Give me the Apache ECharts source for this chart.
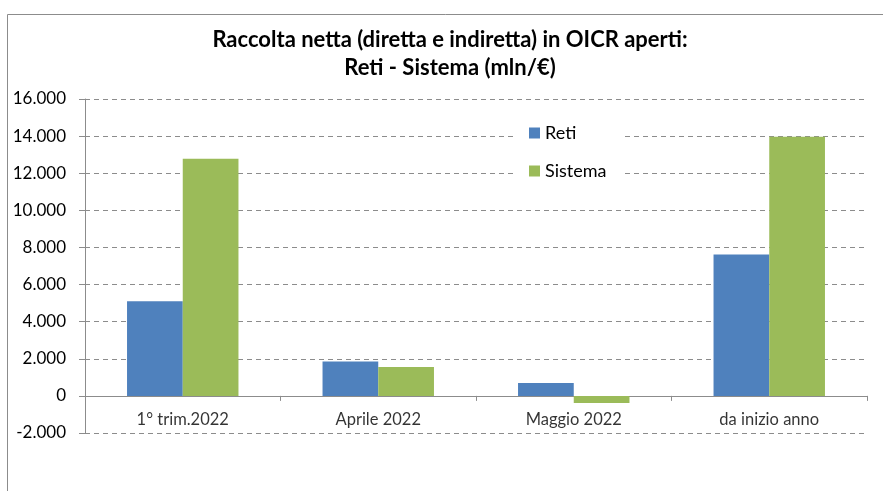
<!DOCTYPE html>
<html><head><meta charset="utf-8">
<script src="https://cdn.jsdelivr.net/npm/echarts@6/dist/echarts.min.js"></script>
<style>html,body{margin:0;padding:0;background:#fff}#c{width:883px;height:491px}</style>
</head><body><div id="c"></div>
<script>
const categories = ['1° trim.2022', 'Aprile 2022', 'Maggio 2022', 'da inizio anno'];
const reti = [5100, 1850, 700, 7620];
const sistema = [12780, 1560, -380, 13960];
const yMin = -2000, yMax = 16000, yStep = 2000;

const fmt = v => {
  const s = Math.abs(v).toString().replace(/\B(?=(\d{3})+(?!\d))/g, '.');
  return (v < 0 ? '-' : '') + s;
};
const font = 'Lato, "Open Sans", sans-serif';
const chart = echarts.init(document.getElementById('c'));
chart.setOption({
  animation: false,
  title: {
    text: 'Raccolta netta (diretta e indiretta) in OICR aperti:\nReti - Sistema (mln/€)',
    left: 445, top: 21, textAlign: 'center',
    textStyle: { fontFamily: font, fontSize: 22, fontWeight: 'bold', color: '#000', lineHeight: 28 }
  },
  graphic: [{
    type: 'rect', shape: { x: 7.5, y: 14.5, width: 1000, height: 600 },
    style: { fill: 'none', stroke: '#8c8c8c', lineWidth: 1 }, silent: true, z: -1
  }],
  legend: {
    orient: 'vertical', left: 513, top: 120, itemGap: 20,
    itemWidth: 11, itemHeight: 11, icon: 'rect',
    backgroundColor: '#fff', padding: [4, 18, 4, 16],
    textStyle: { fontFamily: font, fontSize: 18, color: '#000' },
    data: ['Reti', 'Sistema']
  },
  grid: { left: 85, right: 16, top: 99, bottom: 58 },
  xAxis: {
    type: 'category', data: categories,
    axisLine: { onZero: true, lineStyle: { color: '#8c8c8c' } },
    axisTick: { show: true, length: 5, inside: false, lineStyle: { color: '#8c8c8c' } },
    axisLabel: { show: false },
    splitLine: { show: false }
  },
  yAxis: {
    type: 'value', min: yMin, max: yMax, interval: yStep,
    axisLine: { show: true, lineStyle: { color: '#8c8c8c' } },
    axisTick: { show: true, length: 6, lineStyle: { color: '#8c8c8c' } },
    axisLabel: { formatter: fmt, fontFamily: font, fontSize: 17, color: '#000', margin: 19 },
    splitLine: { show: true, lineStyle: { color: '#8c8c8c', type: [5, 4] } }
  },
  series: [
    { name: 'Reti', type: 'bar', data: reti, itemStyle: { color: '#4F81BD' }, barGap: '0%', barCategoryGap: '43%' },
    { name: 'Sistema', type: 'bar', data: sistema, itemStyle: { color: '#9BBB59' }, barGap: '0%', barCategoryGap: '43%' },
    {
      name: 'labels', type: 'scatter', symbolSize: 0, silent: true,
      data: categories.map(c => [c, yMin]),
      label: { show: true, formatter: p => p.name || p.value[0], position: 'top', distance: 5,
        fontFamily: font, fontSize: 16.5, color: '#000' }
    }
  ]
});
</script></body></html>
